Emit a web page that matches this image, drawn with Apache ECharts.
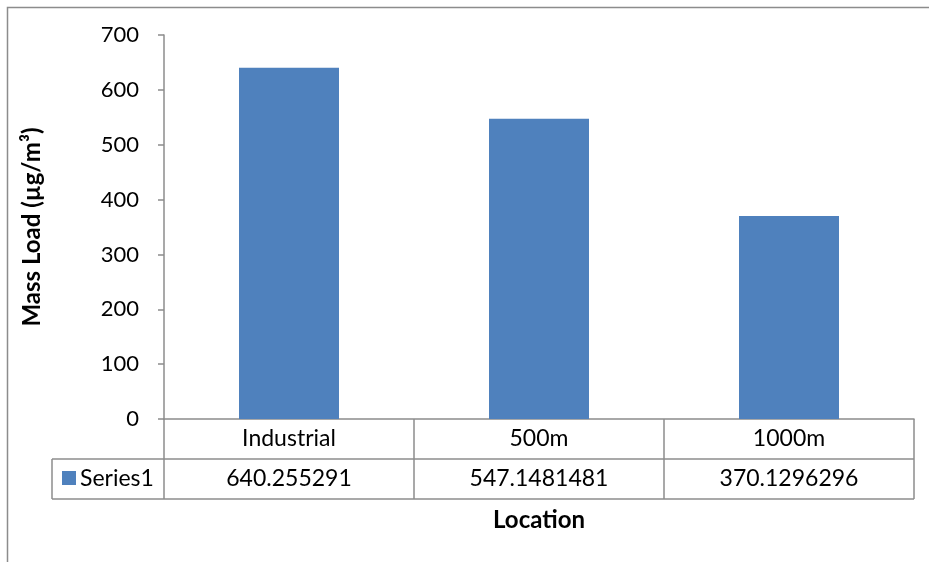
<!DOCTYPE html>
<html>
<head>
<meta charset="utf-8">
<script src="https://cdn.jsdelivr.net/npm/echarts@6/dist/echarts.min.js"></script>
<style>html,body{margin:0;padding:0;background:#fff;}#chart{width:929px;height:562px;}</style>
</head>
<body>
<div id="chart"></div>
<script>
const categories = ['Industrial', '500m', '1000m'];
const seriesName = 'Series1';
const values = [640.255291, 547.1481481, 370.1296296];
const valueLabels = ['640.255291', '547.1481481', '370.1296296'];
const yMin = 0, yMax = 700, yStep = 100;
const yTitle = 'Mass Load (µg/m³)';
const xTitle = 'Location';

const FONT = 'Lato';
const BLUE = '#4F81BD';
const GRAY = '#8c8c8c';
const G = {left: 164, right: 15, top: 35, bottom: 143};
const W = 929, H = 562;
const axisY = H - G.bottom;          // 419
const rowH = 40;
const tableRight = W - G.right;
const catW = (tableRight - G.left) / categories.length;

const graphics = [
  {type: 'rect', shape: {x: 7.5, y: 7.5, width: 1000, height: 1000}, style: {fill: 'none', stroke: GRAY, lineWidth: 1.5}, silent: true},
  {type: 'line', shape: {x1: 52, y1: axisY + rowH, x2: tableRight, y2: axisY + rowH}, style: {stroke: GRAY, lineWidth: 1.5}},
  {type: 'line', shape: {x1: 52, y1: axisY + rowH * 2, x2: tableRight, y2: axisY + rowH * 2}, style: {stroke: GRAY, lineWidth: 1.5}},
  {type: 'line', shape: {x1: 52, y1: axisY + rowH, x2: 52, y2: axisY + rowH * 2}, style: {stroke: GRAY, lineWidth: 1.5}},
  {type: 'rect', shape: {x: 62, y: axisY + rowH + 12, width: 14, height: 14}, style: {fill: BLUE}},
  {type: 'text', x: 80, y: axisY + rowH + 20, style: {text: seriesName, fontSize: 23, fontFamily: FONT, fill: '#000', verticalAlign: 'middle', textAlign: 'left'}},
  {type: 'text', x: (G.left + tableRight) / 2, y: 520, style: {text: xTitle, fontSize: 24, fontWeight: 'bold', fontFamily: FONT, fill: '#000', verticalAlign: 'middle', textAlign: 'center'}}
];
for (let i = 0; i <= categories.length; i++) {
  const x = G.left + i * catW;
  graphics.push({type: 'line', shape: {x1: x, y1: axisY, x2: x, y2: axisY + rowH * 2}, style: {stroke: GRAY, lineWidth: 1.5}});
}

const chart = echarts.init(document.getElementById('chart'));
chart.setOption({
  animation: false,
  textStyle: {fontFamily: FONT},
  grid: {left: G.left, right: G.right, top: G.top, bottom: G.bottom},
  xAxis: [{
    type: 'category',
    data: categories,
    axisLine: {lineStyle: {color: GRAY, width: 1.5}},
    axisTick: {show: false},
    axisLabel: {margin: 8, fontSize: 23, color: '#000', fontFamily: FONT}
  }, {
    type: 'category',
    data: categories,
    position: 'bottom',
    offset: rowH,
    axisLine: {show: false},
    axisTick: {show: false},
    axisLabel: {margin: 8, fontSize: 23, color: '#000', fontFamily: FONT,
      formatter: (v, i) => valueLabels[i]}
  }],
  yAxis: {
    type: 'value',
    min: yMin, max: yMax, interval: yStep,
    axisLine: {show: true, lineStyle: {color: GRAY, width: 1.5}},
    axisTick: {show: true, length: 6, lineStyle: {color: GRAY, width: 1.5}},
    splitLine: {show: false},
    axisLabel: {margin: 25, fontSize: 22, color: '#000', fontFamily: FONT},
    name: yTitle,
    nameLocation: 'middle',
    nameGap: 120,
    nameTextStyle: {fontSize: 24, fontWeight: 'bold', color: '#000', fontFamily: FONT}
  },
  series: [{
    name: seriesName,
    type: 'bar',
    data: values,
    barWidth: '40%',
    itemStyle: {color: BLUE}
  }],
  graphic: graphics
});
</script>
</body>
</html>
